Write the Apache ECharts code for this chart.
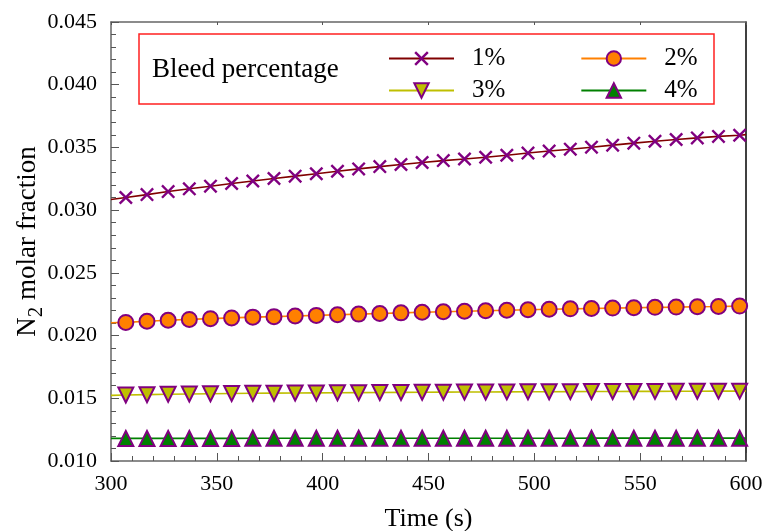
<!DOCTYPE html>
<html><head><meta charset="utf-8">
<script src="https://cdn.jsdelivr.net/npm/echarts@6/dist/echarts.min.js"></script>
<style>html,body{margin:0;padding:0;background:#fff}#c{width:767px;height:531px}</style>
</head><body><div id="c"></div>
<script>
// Time (s): line end points 300/600 plus marker positions
const times = [300,307,317,327,337,347,357,367,377,387,397,407,417,427,437,447,457,467,477,487,497,507,517,527,537,547,557,567,577,587,597,600];
const bleed1 = [0.03085,0.03101,0.03124,0.03148,0.03170,0.03191,0.03212,0.03232,0.03252,0.03271,0.03290,0.03310,0.03329,0.03347,0.03364,0.03380,0.03395,0.03408,0.03422,0.03438,0.03455,0.03471,0.03486,0.03502,0.03518,0.03534,0.03549,0.03563,0.03576,0.03588,0.03597,0.03602];
const bleed2 = [0.02102,0.02105,0.02114,0.02122,0.02129,0.02135,0.02141,0.02147,0.02151,0.02156,0.02161,0.02166,0.02171,0.02176,0.02181,0.02186,0.02190,0.02194,0.02198,0.02202,0.02206,0.02210,0.02213,0.02216,0.02219,0.02222,0.02225,0.02227,0.02230,0.02232,0.02235,0.02236];
const bleed3 = [0.01523,0.01526,0.01529,0.01532,0.01534,0.01536,0.01538,0.01540,0.01541,0.01542,0.01543,0.01544,0.01545,0.01546,0.01547,0.01548,0.01549,0.01550,0.01550,0.01551,0.01552,0.01552,0.01553,0.01554,0.01554,0.01555,0.01555,0.01556,0.01556,0.01557,0.01557,0.01558];
const bleed4 = [0.01180,0.01180,0.01180,0.01180,0.01180,0.01180,0.01180,0.01181,0.01181,0.01181,0.01181,0.01181,0.01181,0.01181,0.01181,0.01181,0.01181,0.01181,0.01181,0.01181,0.01181,0.01181,0.01181,0.01182,0.01182,0.01182,0.01182,0.01182,0.01182,0.01182,0.01182,0.01182];
const seriesNames = ['1%','2%','3%','4%'];
const xTicks = {min:300, max:600, interval:50};
const yTicks = {min:0.010, max:0.045, interval:0.005};
const legendTitle = 'Bleed percentage';

const FONT = 'Liberation Serif';
const PURPLE = '#800080';
const XPATH = 'path://M0,1.2 L1.2,0 L5,3.8 L8.8,0 L10,1.2 L6.2,5 L10,8.8 L8.8,10 L5,6.2 L1.2,10 L0,8.8 L3.8,5 Z';

function mk(name, vals, lineColor, symbol, size, fill, rotate, bw) {
  const last = times.length - 1;
  return {
    name, type:'line', animation:false,
    data: times.map((t,i)=>({value:[t, vals[i]], symbol:(i===0||i===last)?'none':symbol})),
    symbol, symbolSize:size, symbolRotate:rotate||0, symbolKeepAspect:true,
    showSymbol:true, showAllSymbol:true,
    lineStyle:{color:lineColor, width:1.6},
    itemStyle:{color:fill, borderColor:PURPLE, borderWidth:bw},
    emphasis:{disabled:true}
  };
}

const chart = echarts.init(document.getElementById('c'), null, {renderer:'canvas'});
const legendText = {fontFamily:FONT, fontSize:25, color:'#000', padding:[0,0,0,13]};
chart.setOption({
  backgroundColor:'#fff',
  animation:false,
  textStyle:{fontFamily:FONT},
  grid:{left:111, right:21, top:22, bottom:70, containLabel:false, outerBoundsMode:'none'},
  xAxis:[{
    type:'value', min:xTicks.min, max:xTicks.max, interval:xTicks.interval,
    name:'Time (s)', nameLocation:'middle', nameGap:45, nameMoveOverlap:false,
    nameTextStyle:{fontFamily:FONT, fontSize:26, color:'#000'},
    axisLine:{show:true, lineStyle:{color:'#666', width:1.5}},
    axisTick:{show:true, inside:true, length:8, lineStyle:{color:'#555', width:1}},
    minorTick:{show:true, splitNumber:5, length:5, lineStyle:{color:'#555', width:1}},
    axisLabel:{fontFamily:FONT, fontSize:22, color:'#000', margin:12},
    splitLine:{show:false}
  },{
    type:'value', position:'top', min:xTicks.min, max:xTicks.max, interval:xTicks.interval,
    axisLine:{show:true, lineStyle:{color:'#666', width:1.5}},
    axisTick:{show:true, inside:true, length:3, lineStyle:{color:'#555'}},
    axisLabel:{show:false}, splitLine:{show:false}
  }],
  yAxis:[{
    type:'value', min:yTicks.min, max:yTicks.max, interval:yTicks.interval,
    name:'{a|N}{s|2}{a| molar fraction}', nameLocation:'middle', nameGap:64, nameMoveOverlap:false,
    nameTextStyle:{fontFamily:FONT, color:'#000', rich:{
      a:{fontFamily:FONT, fontSize:27, color:'#000', lineHeight:38},
      s:{fontFamily:FONT, fontSize:21, color:'#000', verticalAlign:'bottom', lineHeight:38}
    }},
    axisLine:{show:true, lineStyle:{color:'#666', width:1.5}},
    axisTick:{show:true, inside:true, length:8, lineStyle:{color:'#555', width:1}},
    minorTick:{show:true, splitNumber:5, length:5, lineStyle:{color:'#555', width:1}},
    axisLabel:{fontFamily:FONT, fontSize:22, color:'#000', margin:14, formatter:v=>v.toFixed(3)},
    splitLine:{show:false}
  },{
    type:'value', position:'right', min:yTicks.min, max:yTicks.max, interval:yTicks.interval,
    axisLine:{show:true, lineStyle:{color:'#000', width:1.5}},
    axisTick:{show:false}, axisLabel:{show:false}, splitLine:{show:false}
  }],
  legend:[{
    data:[seriesNames[0], seriesNames[1]], left:388, top:46, padding:0, z:10,
    itemWidth:65, itemHeight:18, itemGap:75, textStyle:legendText, selectedMode:false
  },{
    data:[seriesNames[2], seriesNames[3]], left:388, top:78, padding:0, z:10,
    itemWidth:65, itemHeight:18, itemGap:75, textStyle:legendText, selectedMode:false
  }],
  graphic:[{
    type:'rect', shape:{x:139, y:34, width:575, height:70},
    style:{fill:'none', stroke:'#ff2020', lineWidth:1.5}, z:1
  },{
    type:'text', x:152, y:70, style:{text:legendTitle, fontFamily:FONT, fontSize:27, fill:'#000', verticalAlign:'middle'}, z:6
  }],
  series:[
    mk(seriesNames[0], bleed1, '#800000', XPATH, 14, PURPLE, 0, 0),
    mk(seriesNames[1], bleed2, '#ff8000', 'circle', 15, '#ff8000', 0, 2),
    mk(seriesNames[2], bleed3, '#bfbf00', 'triangle', 15, '#bfbf00', 180, 2),
    mk(seriesNames[3], bleed4, '#008000', 'triangle', 15, '#008000', 0, 2)
  ]
});
</script>
</body></html>
